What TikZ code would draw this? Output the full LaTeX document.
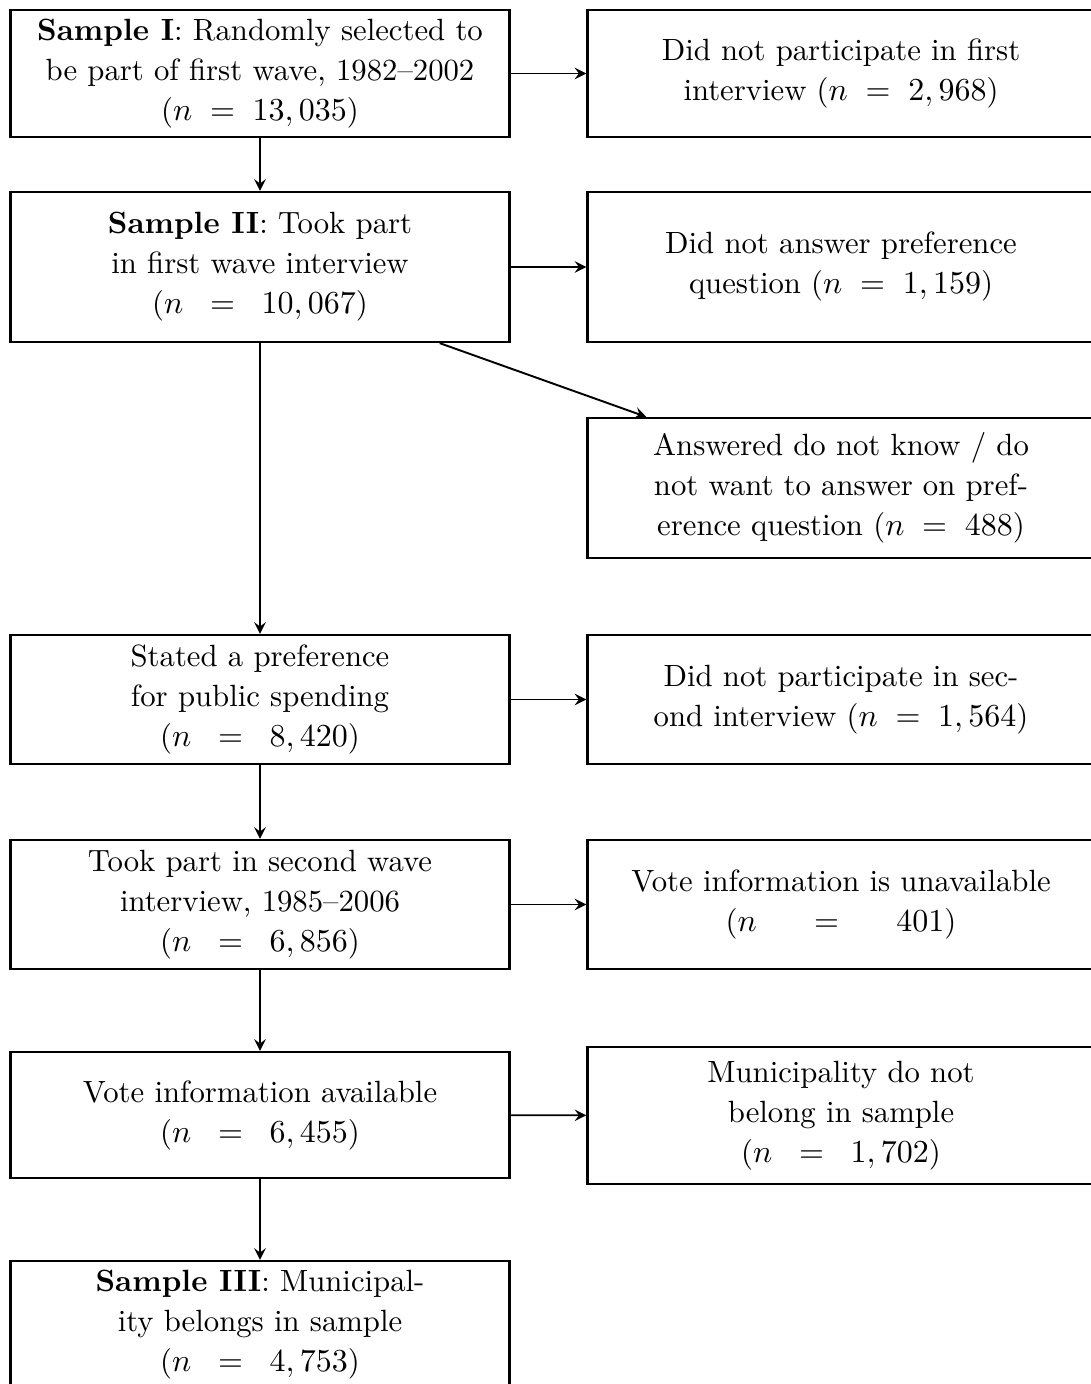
\documentclass[tikz,border=0pt]{standalone}
\usetikzlibrary{calc}
\tikzset{
  lbox/.style={draw, line width=0.7pt, minimum width=156pt, align=center, inner sep=2pt, font=\fontsize{9.6pt}{12.5pt}\selectfont},
  rbox/.style={draw, line width=0.7pt, minimum width=158.5pt, align=center, inner sep=2pt, font=\fontsize{9.6pt}{12.5pt}\selectfont},
  flow/.style={->, >=stealth, line width=0.6pt}
}
\begin{document}
\begin{tikzpicture}[x=0.3125pt, y=-0.3125pt]
\clip (0,0) rectangle (1091,1384);
\node[lbox, minimum height=39.7pt] (smp0) at (260,73.5){\textbf{Sample I}: Randomly selected to\\be part of first wave, 1982--2002\\(\(n\;=\;13,035\))};
\node[rbox, minimum height=39.7pt] (out0) at (841,73.5){Did not participate in first\\interview (\(n\;=\;2,968\))};
\node[lbox, minimum height=46.9pt] (smp1) at (260,267){\textbf{Sample II}: Took part\\in first wave interview\\(\(n\;\;=\;\;10,067\))};
\node[rbox, minimum height=46.9pt] (out1) at (841,267){Did not answer preference\\question (\(n\;=\;1,159\))};
\node[rbox, minimum height=43.75pt] (out2) at (841,488){Answered do not know / do\\not want to answer on pref-\\erence question (\(n\;=\;488\))};
\node[lbox, minimum height=40.3pt] (smp2) at (260,699.5){Stated a preference\\for public spending\\(\(n\;\;=\;\;8,420\))};
\node[rbox, minimum height=40.3pt] (out3) at (841,699.5){Did not participate in sec-\\ond interview (\(n\;=\;1,564\))};
\node[lbox, minimum height=40.3pt] (smp3) at (260,904.5){Took part in second wave\\interview, 1985--2006\\(\(n\;\;=\;\;6,856\))};
\node[rbox, minimum height=40.3pt] (out4) at (841,904.5){Vote information is unavailable\\(\(n\quad\;\;=\quad\;\;401\))};
\node[lbox, minimum height=39.4pt] (smp4) at (260,1115){Vote information available\\(\(n\;\;=\;\;6,455\))};
\node[rbox, minimum height=42.8pt] (out5) at (841,1115.5){Municipality do not\\belong in sample\\(\(n\;\;=\;\;1,702\))};
\node[lbox, minimum height=39.7pt] (smp5) at (260,1324.5){\textbf{Sample III}: Municipal-\\ity belongs in sample\\(\(n\;\;=\;\;4,753\))};
\draw[flow](smp0) -- (out0);
\draw[flow](smp0) -- (smp1);
\draw[flow](smp1) -- (out1);
\draw[flow]($(smp1.south east)+(-71,0)$) -- ($(out2.north west)+(60,0)$);
\draw[flow](smp1) -- (smp2);
\draw[flow](smp2) -- (out3);
\draw[flow](smp2) -- (smp3);
\draw[flow](smp3) -- (out4);
\draw[flow](smp3) -- (smp4);
\draw[flow](smp4) -- (out5);
\draw[flow](smp4) -- (smp5);
\end{tikzpicture}
\end{document}
